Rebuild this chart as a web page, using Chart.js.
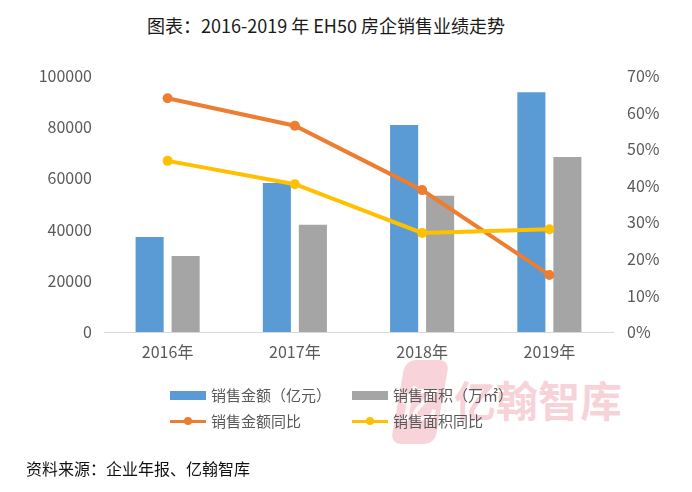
<!DOCTYPE html>
<html>
<head>
<meta charset="utf-8">
<script src="https://cdn.jsdelivr.net/npm/chart.js@4/dist/chart.umd.min.js"></script>
<style>
  body { margin: 0; background: #fff; font-family: "Noto Sans CJK SC", sans-serif; }
  #page { position: relative; width: 692px; height: 492px; overflow: hidden; }
  #title { position: absolute; left: 0; width: 652px; top: 12px; text-align: center; font-size: 18px; color: #1a1a1a; }
  #chartWrap { position: absolute; left: 0; top: 0; width: 692px; height: 492px; z-index: 2; }
  #mark { position: absolute; left: 398px; top: 360px; z-index: 1; }
  #markLogo { position: absolute; left: 0; top: 0; width: 44px; height: 84px; background: rgba(236, 140, 155, 0.38);
              border-radius: 10px; transform: skewX(-10deg); color: rgba(255,255,255,0.9); font-size: 38px;
              font-weight: bold; line-height: 84px; text-align: center; }
  #markText { position: absolute; left: 56px; top: 16px; font-size: 42px; font-weight: bold; color: rgba(236, 140, 155, 0.38);
              white-space: nowrap; line-height: 46px; }
  .legend { position: absolute; z-index: 3; font-size: 15px; color: #595959; white-space: nowrap; }
  .legend span.sw { position: absolute; left: 0; }
  .legend span.txt { position: absolute; left: 41px; top: -11px; line-height: 22px; }
  #source { position: absolute; left: 26px; top: 456px; font-size: 16px; color: #111; z-index: 3; }
</style>
</head>
<body>
<div id="page">
  <div id="title">图表：2016-2019 年 EH50 房企销售业绩走势</div>
  <div id="mark"><div id="markLogo">亿</div><div id="markText">亿翰智库</div></div>
  <div id="chartWrap"><canvas id="chart" width="692" height="492"></canvas></div>
  <div id="legend"></div>
  <div id="source">资料来源：企业年报、亿翰智库</div>
</div>
<script>
var years = ['2016年', '2017年', '2018年', '2019年'];
var salesAmount = [37100, 58200, 80900, 93700];   // 销售金额（亿元）
var salesArea = [29700, 41900, 53200, 68400];     // 销售面积（万㎡）
var amountGrowth = [63.9, 56.4, 38.8, 15.6];      // 销售金额同比 %
var areaGrowth = [46.8, 40.4, 27.1, 28.1];        // 销售面积同比 %

var blue = '#5B9BD5', gray = '#A5A5A5', orange = '#ED7D31', yellow = '#FFC000';
var tickColor = '#595959';
var tickFont = { family: '"Noto Sans CJK SC", sans-serif', size: 16 };

// html legend, two rows like the excel original
var legendItems = [
    { label: '销售金额（亿元）', color: blue, type: 'box', x: 170, y: 395 },
    { label: '销售面积（万㎡）', color: gray, type: 'box', x: 352, y: 395 },
    { label: '销售金额同比', color: orange, type: 'line', x: 170, y: 421 },
    { label: '销售面积同比', color: yellow, type: 'line', x: 352, y: 421 }
];
var legendHtml = '';
legendItems.forEach(function (item) {
    var sw;
    if (item.type === 'box') {
        sw = '<span class="sw" style="top:-4px;width:36px;height:9px;background:' + item.color + '"></span>';
    } else {
        sw = '<span class="sw" style="top:-1.5px;width:36px;height:3px;background:' + item.color + '"></span>'
           + '<span class="sw" style="left:14px;top:-4px;width:8px;height:8px;border-radius:50%;background:' + item.color + '"></span>';
    }
    legendHtml += '<div class="legend" style="left:' + item.x + 'px;top:' + item.y + 'px">' + sw
                + '<span class="txt">' + item.label + '</span></div>';
});
document.getElementById('legend').innerHTML = legendHtml;

var ctx = document.getElementById('chart').getContext('2d');
var myChart = new Chart(ctx, {
    type: 'bar',
    data: {
        labels: years,
        datasets: [
            { label: '销售金额（亿元）', data: salesAmount, backgroundColor: blue, yAxisID: 'y', order: 3,
              categoryPercentage: 0.566, barPercentage: 0.78 },
            { label: '销售面积（万㎡）', data: salesArea, backgroundColor: gray, yAxisID: 'y', order: 3,
              categoryPercentage: 0.566, barPercentage: 0.78 },
            { type: 'line', label: '销售金额同比', data: amountGrowth, borderColor: orange, backgroundColor: orange,
              borderWidth: 4, pointRadius: 5, pointBorderWidth: 0, yAxisID: 'y1', order: 2 },
            { type: 'line', label: '销售面积同比', data: areaGrowth, borderColor: yellow, backgroundColor: yellow,
              borderWidth: 4, pointRadius: 5, pointBorderWidth: 0, yAxisID: 'y1', order: 1 }
        ]
    },
    options: {
        responsive: false,
        animation: false,
        layout: { padding: { top: 76, left: 0, right: 0, bottom: 0 } },
        plugins: { legend: { display: false }, tooltip: { enabled: false } },
        scales: {
            x: {
                grid: { display: false, drawTicks: false },
                border: { color: '#D9D9D9', width: 1 },
                ticks: { color: tickColor, font: tickFont, padding: 10 },
                afterFit: function (s) { s.height = 160; }
            },
            y: {
                position: 'left',
                min: 0, max: 100000,
                grid: { display: false, drawTicks: false },
                border: { display: false },
                ticks: { stepSize: 20000, color: tickColor, font: tickFont, padding: 12,
                         callback: function (v) { return String(v); } },
                afterFit: function (s) { s.width = 104; }
            },
            y1: {
                position: 'right',
                min: 0, max: 70,
                grid: { display: false, drawTicks: false },
                border: { display: false },
                ticks: { stepSize: 10, color: tickColor, font: tickFont, padding: 14,
                         callback: function (v) { return v + '%'; } },
                afterFit: function (s) { s.width = 79; }
            }
        }
    }
});
</script>
</body>
</html>
